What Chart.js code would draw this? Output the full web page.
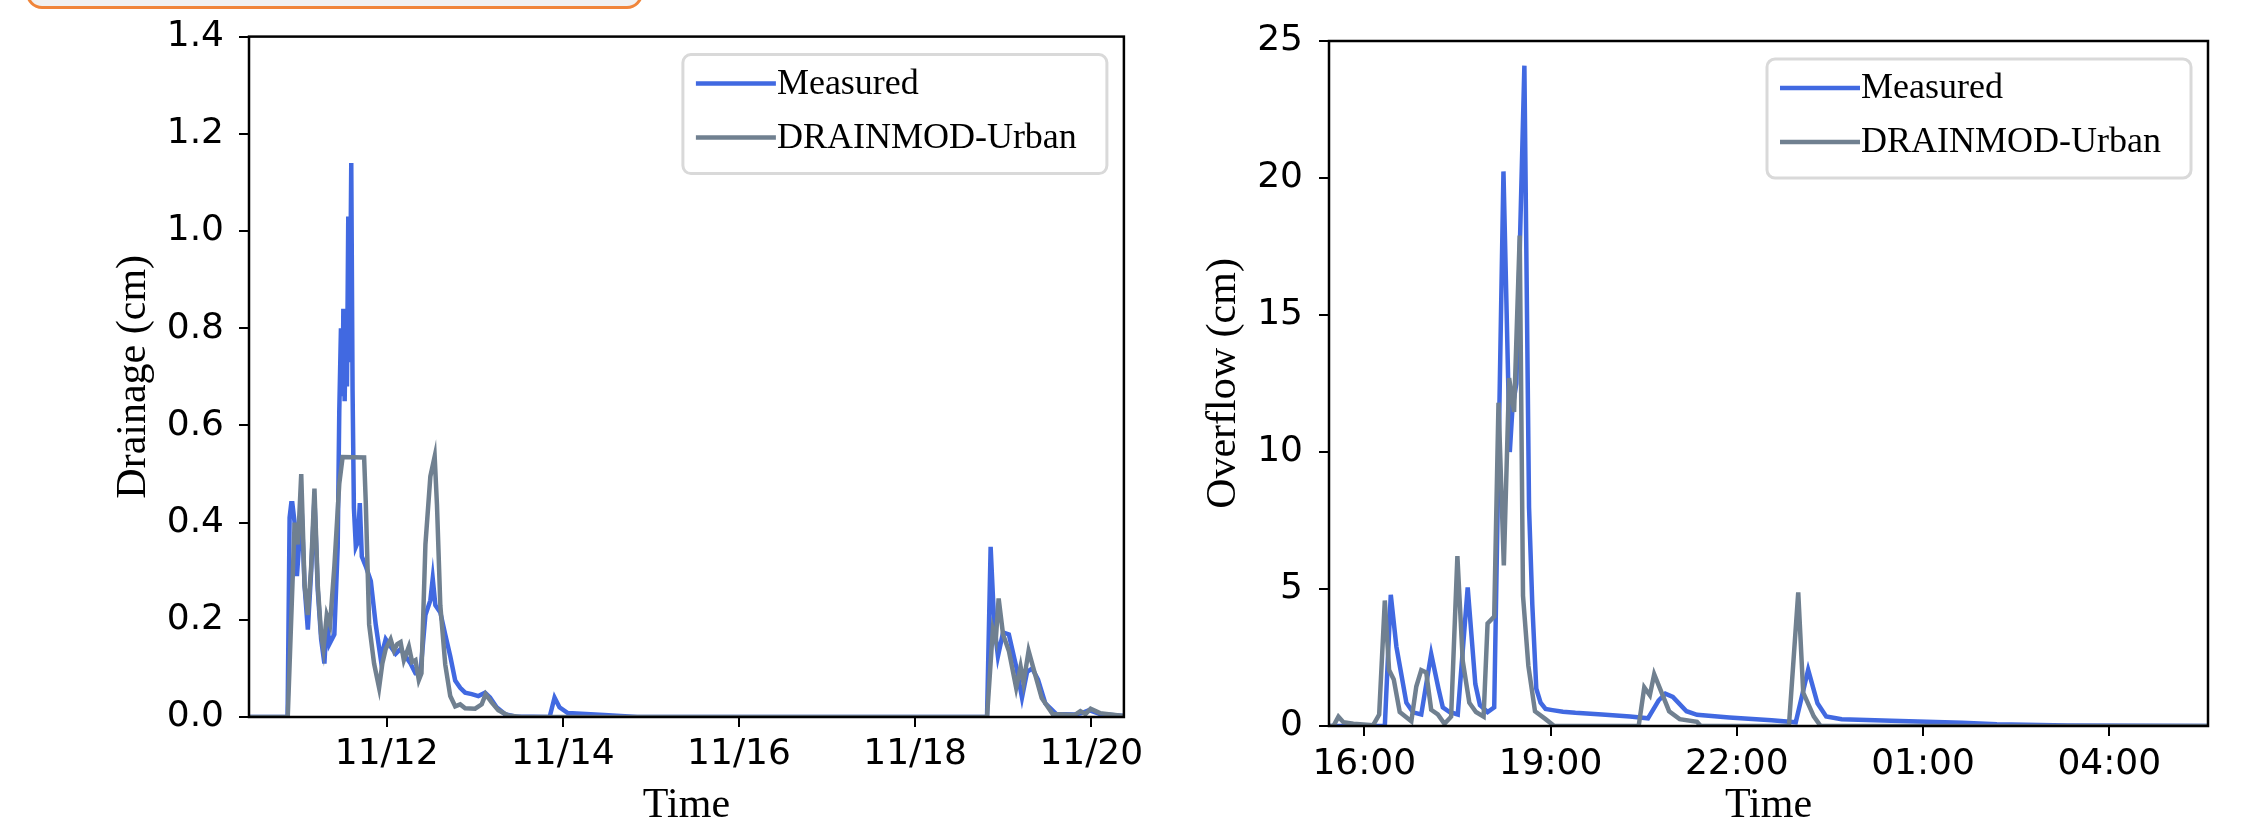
<!DOCTYPE html>
<html>
<head>
<meta charset="utf-8">
<script src="https://cdn.jsdelivr.net/npm/chart.js@4.4.1/dist/chart.umd.min.js"></script>
<style>
    body { margin: 0; background: #fff; width: 2259px; height: 829px; overflow: hidden; position: relative; }
    .tab { position: absolute; left: 26px; top: -40px; width: 611px; height: 43px; border: 3px solid #f0853a; border-radius: 16px; background: #f1f1f1; }
    #drainWrap { position: absolute; left: 0; top: 0; width: 1150px; height: 829px; }
    #overflowWrap { position: absolute; left: 1150px; top: 0; width: 1109px; height: 829px; }
</style>
</head>
<body>
<div class="tab"></div>
<div id="drainWrap"><canvas id="drainChart"></canvas></div>
<div id="overflowWrap"><canvas id="overflowChart"></canvas></div>
<script>
// Drainage plot: x = days since 11/10 00:00
const drainTickDays = [2, 4, 6, 8, 10];
const drainTickLabels = ['11/12', '11/14', '11/16', '11/18', '11/20'];

const measDrainT = [0.437, 0.875, 0.898, 0.917, 0.929, 0.955, 0.981, 1.004, 1.030, 1.068, 1.105, 1.143, 1.180, 1.218, 1.256, 1.293, 1.320, 1.350, 1.406, 1.444, 1.462, 1.481, 1.500, 1.508, 1.523, 1.538, 1.549, 1.564, 1.579, 1.598, 1.613, 1.628, 1.650, 1.673, 1.695, 1.718, 1.763, 1.820, 1.876, 1.932, 1.989, 2.045, 2.102, 2.158, 2.214, 2.271, 2.327, 2.383, 2.440, 2.496, 2.523, 2.553, 2.609, 2.665, 2.722, 2.778, 2.835, 2.891, 2.966, 3.041, 3.117, 3.173, 3.248, 3.342, 3.455, 3.850, 3.906, 3.962, 4.056, 4.470, 4.846, 8.816, 8.857, 8.898, 8.940, 8.998, 9.064, 9.147, 9.213, 9.271, 9.329, 9.395, 9.478, 9.603, 9.810, 9.892, 9.975, 10.099, 10.370];
const measDrainV = [0, 0, 0.41, 0.44, 0.44, 0.40, 0.29, 0.35, 0.45, 0.27, 0.18, 0.30, 0.45, 0.26, 0.16, 0.11, 0.20, 0.15, 0.17, 0.35, 0.63, 0.80, 0.66, 0.84, 0.65, 0.82, 0.68, 1.03, 0.73, 1.14, 0.67, 0.43, 0.35, 0.36, 0.44, 0.33, 0.31, 0.28, 0.19, 0.12, 0.16, 0.145, 0.13, 0.14, 0.125, 0.11, 0.09, 0.09, 0.21, 0.24, 0.285, 0.23, 0.215, 0.17, 0.125, 0.075, 0.06, 0.05, 0.047, 0.043, 0.05, 0.04, 0.02, 0.006, 0.001, 0, 0.04, 0.02, 0.008, 0.004, 0, 0, 0.35, 0.19, 0.125, 0.174, 0.17, 0.104, 0.04, 0.093, 0.10, 0.077, 0.028, 0.006, 0.005, 0.008, 0.014, 0.006, 0.002];

const modDrainT = [0.437, 0.877, 0.955, 0.993, 1.030, 1.068, 1.105, 1.143, 1.180, 1.218, 1.256, 1.282, 1.320, 1.357, 1.406, 1.462, 1.500, 1.744, 1.763, 1.801, 1.857, 1.914, 1.951, 1.989, 2.045, 2.083, 2.120, 2.158, 2.195, 2.252, 2.289, 2.327, 2.365, 2.395, 2.440, 2.496, 2.545, 2.571, 2.609, 2.665, 2.722, 2.778, 2.835, 2.891, 3.004, 3.079, 3.124, 3.192, 3.267, 3.380, 3.530, 8.816, 8.882, 8.915, 8.948, 8.998, 9.064, 9.147, 9.197, 9.230, 9.288, 9.354, 9.437, 9.561, 9.810, 9.876, 9.934, 9.992, 10.099, 10.370];
const modDrainV = [0, 0, 0.40, 0.355, 0.50, 0.27, 0.21, 0.31, 0.47, 0.27, 0.17, 0.14, 0.21, 0.19, 0.31, 0.48, 0.535, 0.534, 0.44, 0.19, 0.11, 0.06, 0.11, 0.14, 0.16, 0.137, 0.15, 0.154, 0.117, 0.145, 0.113, 0.117, 0.076, 0.09, 0.355, 0.495, 0.536, 0.437, 0.23, 0.108, 0.043, 0.022, 0.026, 0.018, 0.017, 0.026, 0.047, 0.03, 0.014, 0.003, 0, 0, 0.18, 0.158, 0.244, 0.17, 0.136, 0.06, 0.104, 0.07, 0.136, 0.093, 0.039, 0.006, 0.004, 0.012, 0.006, 0.017, 0.008, 0.002];

// Overflow plot: x = hours since midnight of the first day
const overflowTickHours = [16, 19, 22, 25, 28];
const overflowTickLabels = ['16:00', '19:00', '22:00', '01:00', '04:00'];

const measFlowT = [15.432, 16.331, 16.427, 16.518, 16.598, 16.678, 16.785, 16.918, 17.078, 17.196, 17.265, 17.372, 17.506, 17.666, 17.789, 17.863, 17.986, 18.093, 18.242, 18.344, 18.387, 18.450, 18.579, 18.654, 18.707, 18.771, 18.840, 18.920, 19.030, 19.200, 19.400, 19.830, 20.280, 20.570, 20.740, 20.850, 20.970, 21.190, 21.360, 21.880, 22.560, 22.950, 23.150, 23.300, 23.440, 23.690, 24.490, 25.630, 26.190, 27.330, 29.590];
const measFlowV = [0, 0, 4.79, 2.89, 1.87, 0.85, 0.50, 0.42, 2.63, 1.36, 0.68, 0.51, 0.42, 5.06, 1.53, 0.76, 0.51, 0.68, 20.24, 10.0, 11.6, 12.5, 24.1, 7.98, 4.41, 1.36, 0.85, 0.62, 0.58, 0.52, 0.48, 0.42, 0.35, 0.28, 0.93, 1.18, 1.06, 0.54, 0.41, 0.31, 0.21, 0.135, 2.05, 0.83, 0.35, 0.25, 0.19, 0.12, 0.06, 0.02, 0];

const modFlowT = [15.432, 15.503, 15.584, 15.664, 15.824, 16.144, 16.240, 16.331, 16.400, 16.475, 16.571, 16.758, 16.838, 16.918, 16.998, 17.078, 17.185, 17.292, 17.399, 17.500, 17.586, 17.692, 17.799, 17.922, 17.986, 18.093, 18.162, 18.248, 18.333, 18.413, 18.504, 18.557, 18.643, 18.750, 18.920, 19.060, 20.420, 20.510, 20.600, 20.670, 20.910, 21.080, 21.360, 21.420, 22.840, 22.990, 23.070, 23.240, 23.350, 29.590];
const modFlowV = [0, 0, 0.34, 0.14, 0.08, 0.03, 0.42, 4.58, 2.04, 1.70, 0.51, 0.17, 1.44, 2.04, 1.95, 0.59, 0.42, 0.08, 0.34, 6.2, 2.38, 0.85, 0.51, 0.34, 3.74, 3.99, 11.8, 5.86, 12.7, 11.46, 17.9, 4.75, 2.2, 0.54, 0.25, 0, 0, 1.41, 1.12, 1.89, 0.54, 0.25, 0.15, 0, 0, 4.88, 1.22, 0.35, 0, 0];

const seriesNames = ['Measured', 'DRAINMOD-Urban'];
const seriesColors = ['#4169e1', '#708090'];

function toPoints(xs, ys) {
    return xs.map((x, i) => ({ x: x, y: ys[i] }));
}

// full black frame round the plot area
const framePlugin = {
    id: 'frame',
    afterDraw(chart) {
        const a = chart.chartArea;
        const ctx = chart.ctx;
        ctx.save();
        ctx.strokeStyle = '#000';
        ctx.lineWidth = 2.5;
        ctx.strokeRect(a.left, a.top, a.right - a.left, a.bottom - a.top);
        ctx.restore();
    }
};

// matplotlib-like legend box in the upper right corner
const boxLegendPlugin = {
    id: 'boxLegend',
    afterDraw(chart) {
        const a = chart.chartArea;
        const ctx = chart.ctx;
        const w = 424, h = 119;
        const x0 = a.right - 17 - w, y0 = a.top + 18;
        ctx.save();
        ctx.beginPath();
        ctx.roundRect(x0, y0, w, h, 8);
        ctx.fillStyle = 'rgba(255,255,255,0.8)';
        ctx.fill();
        ctx.lineWidth = 3;
        ctx.strokeStyle = '#d9d9d9';
        ctx.stroke();
        ctx.font = '36px "Liberation Serif"';
        ctx.textBaseline = 'middle';
        ctx.fillStyle = '#000';
        chart.data.datasets.forEach((ds, i) => {
            const y = y0 + 29 + i * 54;
            ctx.beginPath();
            ctx.moveTo(x0 + 13, y);
            ctx.lineTo(x0 + 93, y);
            ctx.strokeStyle = ds.borderColor;
            ctx.lineWidth = 4.5;
            ctx.stroke();
            ctx.fillText(ds.label, x0 + 94, y + 1);
        });
        ctx.restore();
    }
};

function makeChart(id, opts) {
    const ctx = document.getElementById(id).getContext('2d');
    return new Chart(ctx, {
        type: 'line',
        data: {
            datasets: [{
                label: seriesNames[0],
                data: opts.measured,
                borderColor: seriesColors[0],
                borderWidth: 4.5,
                pointRadius: 0,
                tension: 0,
                order: 1
            }, {
                label: seriesNames[1],
                data: opts.model,
                borderColor: seriesColors[1],
                borderWidth: 4.5,
                pointRadius: 0,
                tension: 0,
                order: 0
            }]
        },
        options: {
            responsive: false,
            animation: false,
            layout: { padding: opts.padding },
            plugins: {
                legend: { display: false },
                tooltip: { enabled: false }
            },
            scales: {
                x: {
                    type: 'linear',
                    min: opts.xMin,
                    max: opts.xMax,
                    afterBuildTicks: s => { s.ticks = opts.xTicks.map(v => ({ value: v })); },
                    afterFit: s => { s.height = opts.xAxisHeight; },
                    grid: { drawOnChartArea: false, color: '#000', lineWidth: 2, tickLength: 10 },
                    border: { display: false },
                    ticks: {
                        color: '#000',
                        font: { family: 'DejaVu Sans', size: 36 },
                        padding: opts.xTickPad,
                        maxRotation: 0,
                        autoSkip: false,
                        callback: v => opts.xLabels[opts.xTicks.indexOf(v)]
                    },
                    title: {
                        display: true,
                        text: 'Time',
                        color: '#000',
                        font: { family: 'Liberation Serif', size: 42, lineHeight: 1 },
                        padding: { top: 0, bottom: 2 }
                    }
                },
                y: {
                    min: 0,
                    max: opts.yMax,
                    afterFit: s => { s.width = opts.yAxisWidth; },
                    grid: { drawOnChartArea: false, color: '#000', lineWidth: 2, tickLength: 10 },
                    border: { display: false },
                    ticks: {
                        stepSize: opts.yStep,
                        color: '#000',
                        font: { family: 'DejaVu Sans', size: 36 },
                        padding: opts.yTickPad,
                        callback: opts.yFormat
                    },
                    title: {
                        display: true,
                        text: opts.yTitle,
                        color: '#000',
                        font: { family: 'Liberation Serif', size: 42, lineHeight: 1 },
                        padding: { top: opts.yTitlePad, bottom: 0 }
                    }
                }
            }
        },
        plugins: [framePlugin, boxLegendPlugin]
    });
}

const dc = document.getElementById('drainChart');
dc.width = 1150; dc.height = 829;
const oc = document.getElementById('overflowChart');
oc.width = 1109; oc.height = 829;

makeChart('drainChart', {
    measured: toPoints(measDrainT, measDrainV),
    model: toPoints(modDrainT, modDrainV),
    padding: { left: 0, right: 22, top: 32, bottom: 0 },
    xMin: 0.437, xMax: 10.37,
    xTicks: drainTickDays, xLabels: drainTickLabels,
    xAxisHeight: 112, xTickPad: 6,
    yMax: 1.4, yStep: 0.2, yAxisWidth: 249, yTickPad: 15,
    yFormat: v => v.toFixed(1),
    yTitle: 'Drainage (cm)', yTitlePad: 113
});

makeChart('overflowChart', {
    measured: toPoints(measFlowT, measFlowV),
    model: toPoints(modFlowT, modFlowV),
    padding: { left: 0, right: 51, top: 41, bottom: 0 },
    xMin: 15.432, xMax: 29.59,
    xTicks: overflowTickHours, xLabels: overflowTickLabels,
    xAxisHeight: 103, xTickPad: 7,
    yMax: 25, yStep: 5, yAxisWidth: 179, yTickPad: 16,
    yFormat: v => String(v),
    yTitle: 'Overflow (cm)', yTitlePad: 53
});
</script>
</body>
</html>
